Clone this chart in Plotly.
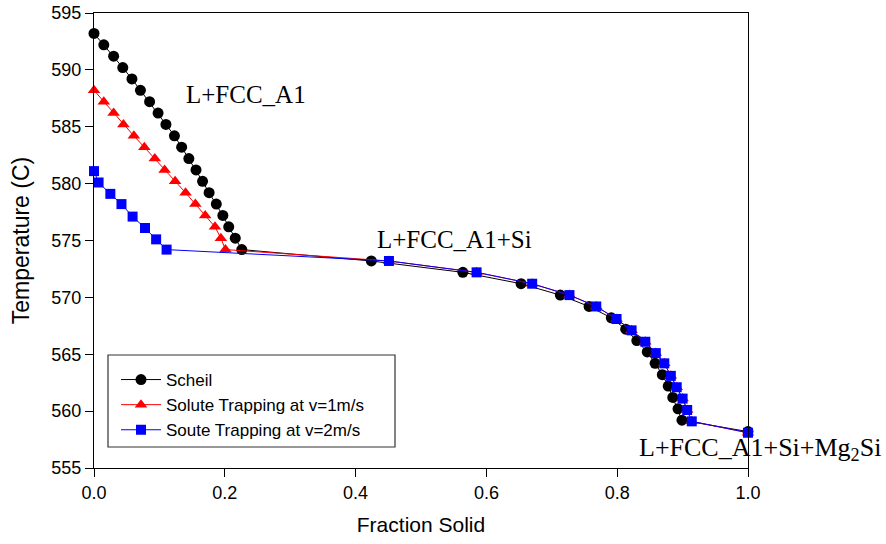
import plotly.graph_objects as go

# ---- data ----
scheil_fs = [0.000, 0.015, 0.030, 0.044, 0.058, 0.071, 0.085, 0.098, 0.110, 0.123,
             0.134, 0.145, 0.156, 0.166, 0.176, 0.187, 0.197, 0.206, 0.216, 0.226,
             0.424, 0.564, 0.653, 0.713, 0.757, 0.791, 0.813, 0.830, 0.846, 0.858,
             0.869, 0.878, 0.885, 0.893, 0.899, 1.000]
scheil_T = [593.2, 592.2, 591.2, 590.2, 589.2, 588.2, 587.2, 586.2, 585.2, 584.2,
            583.2, 582.2, 581.2, 580.2, 579.2, 578.2, 577.2, 576.2, 575.2, 574.2,
            573.2, 572.2, 571.2, 570.2, 569.2, 568.2, 567.2, 566.2, 565.2, 564.2,
            563.2, 562.2, 561.2, 560.2, 559.2, 558.2]

v1_fs = [0.000, 0.015, 0.030, 0.045, 0.061, 0.077, 0.093, 0.108, 0.124, 0.140,
         0.155, 0.170, 0.185, 0.194, 0.201,
         0.451, 0.585, 0.670, 0.727, 0.768, 0.799, 0.822, 0.843, 0.859, 0.872,
         0.882, 0.891, 0.900, 0.907, 0.914, 1.000]
v1_T = [588.2, 587.2, 586.2, 585.2, 584.2, 583.2, 582.2, 581.2, 580.2, 579.2,
        578.2, 577.2, 576.2, 575.2, 574.2,
        573.2, 572.2, 571.2, 570.2, 569.2, 568.1, 567.1, 566.1, 565.1, 564.2,
        563.1, 562.1, 561.1, 560.1, 559.1, 558.1]

v2_fs = [0.000, 0.007, 0.025, 0.042, 0.059, 0.078, 0.095, 0.111,
         0.451, 0.585, 0.670, 0.727, 0.768, 0.799, 0.822, 0.843, 0.859, 0.872,
         0.882, 0.891, 0.900, 0.907, 0.914, 1.000]
v2_T = [581.1, 580.1, 579.1, 578.2, 577.1, 576.1, 575.1, 574.2,
        573.2, 572.2, 571.2, 570.2, 569.2, 568.1, 567.1, 566.1, 565.1, 564.2,
        563.1, 562.1, 561.1, 560.1, 559.1, 558.1]

series_names = ["Scheil", "Solute Trapping at v=1m/s", "Soute Trapping at v=2m/s"]
x_ticks = [0.0, 0.2, 0.4, 0.6, 0.8, 1.0]
y_ticks = [555, 560, 565, 570, 575, 580, 585, 590, 595]

fig = go.Figure()
fig.add_trace(go.Scatter(x=scheil_fs, y=scheil_T, name=series_names[0], mode="lines+markers",
                         line=dict(color="black", width=1),
                         marker=dict(symbol="circle", size=11, color="black"),
                         cliponaxis=False))
fig.add_trace(go.Scatter(x=v1_fs, y=v1_T, name=series_names[1], mode="lines+markers",
                         line=dict(color="red", width=1),
                         marker=dict(symbol="triangle-up", size=11, color="red"),
                         cliponaxis=False))
fig.add_trace(go.Scatter(x=v2_fs, y=v2_T, name=series_names[2], mode="lines+markers",
                         line=dict(color="blue", width=1),
                         marker=dict(symbol="square", size=10, color="blue"),
                         cliponaxis=False))

W, H = 886, 544
L, R, T, B = 94, 138, 13, 76
pw, ph = W - L - R, H - T - B

def px_x(p):
    return (p - L) / pw

def px_y(p):
    return (H - B - p) / ph

serif = "Liberation Serif, Times New Roman, serif"
sans = "Liberation Sans, Arial, sans-serif"

anns = [
    dict(text="L+FCC_A1", x=px_x(184), y=px_y(94), size=25),
    dict(text="L+FCC_A1+Si", x=px_x(375), y=px_y(239), size=25),
    dict(text="L+FCC_A1+Si+Mg<sub>2</sub>Si", x=px_x(637), y=px_y(449), size=26),
]
for a in anns:
    fig.add_annotation(text=a["text"], x=a["x"], y=a["y"], xref="paper", yref="paper",
                       xanchor="left", yanchor="middle", showarrow=False,
                       font=dict(family=serif, size=a["size"], color="black"))

fig.add_shape(type="rect", xref="paper", yref="paper",
              x0=px_x(108), x1=px_x(395), y0=px_y(447), y1=px_y(355),
              line=dict(color="#333333", width=1.2), fillcolor="rgba(0,0,0,0)")

fig.update_layout(
    width=W, height=H,
    margin=dict(l=L, r=R, t=T, b=B),
    paper_bgcolor="white", plot_bgcolor="white",
    font=dict(family=sans, size=18, color="black"),
    showlegend=True,
    legend=dict(x=px_x(116), y=px_y(362), xanchor="left", yanchor="top",
                bgcolor="rgba(0,0,0,0)", borderwidth=0,
                font=dict(family=sans, size=17, color="black"),
                itemwidth=40, tracegroupgap=0),
    xaxis=dict(range=[0, 1], tickvals=x_ticks, ticktext=[f"{v:.1f}" for v in x_ticks],
               showgrid=False, zeroline=False, showline=True, linecolor="black", linewidth=1,
               mirror=True, ticks="outside", ticklen=8, tickcolor="black", automargin=False,
               tickfont=dict(size=18),
               title=dict(text="Fraction Solid", font=dict(family=sans, size=21))),
    yaxis=dict(range=[555, 595], tickvals=y_ticks,
               showgrid=False, zeroline=False, showline=True, linecolor="black", linewidth=1,
               mirror=True, ticks="outside", ticklen=8, tickcolor="black", automargin=False,
               tickfont=dict(size=18),
               title=dict(text="Temperature (C)", font=dict(family=sans, size=23))),
)

fig.write_html("out.html")
